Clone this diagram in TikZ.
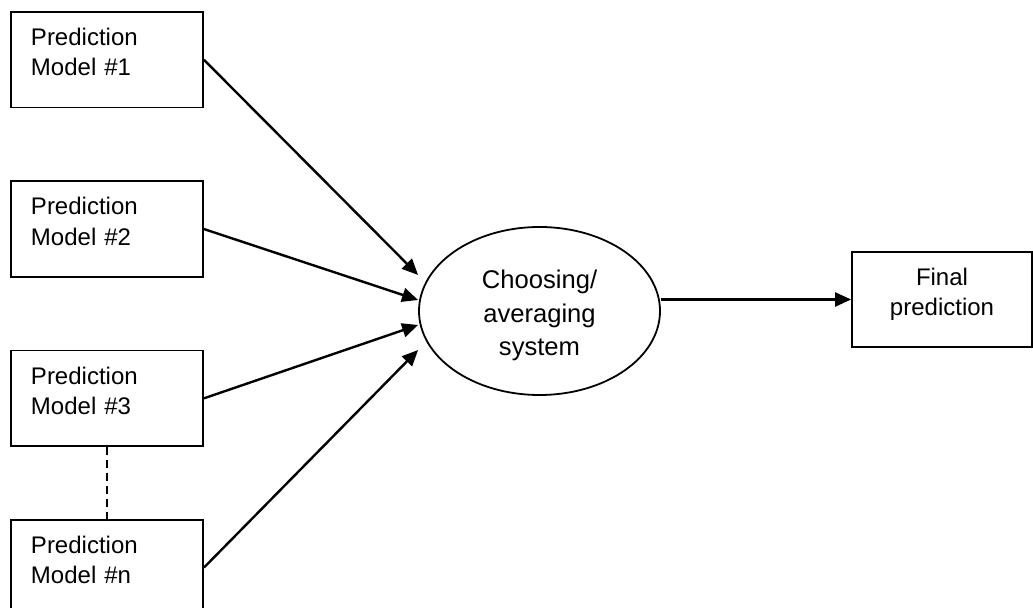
\documentclass[tikz,border=0pt]{standalone}
\usepackage{fontspec}
\setmainfont{Liberation Sans}
\usetikzlibrary{positioning,shapes.geometric,arrows.meta}

\begin{document}
\begin{tikzpicture}[x=0.5pt,y=-0.5pt,
  box/.style={rectangle, draw, line width=0.9pt, inner ysep=0pt, text height=16.75pt, text depth=31pt, font=\fontsize{12}{15.2}\selectfont},
  model/.style={box, minimum width=96pt, inner xsep=10pt, text width=76pt, align=left},
  feed/.style={line width=1.2pt, -{Triangle[length=8pt,width=7pt]}}]
\useasboundingbox (0,0) rectangle (1033,608);
%the models down the left side
\node[model] (m1) at (107,59.75) {Prediction\\Model \#1};
\node[model, below=36pt of m1] (m2) {Prediction\\Model \#2};
\node[model, below=36pt of m2] (m3) {Prediction\\Model \#3};
\node[model, below=36pt of m3] (mn) {Prediction\\Model \#n};
%the combiner and the output
\node[ellipse, draw, line width=0.9pt, minimum width=120.5pt, minimum height=84pt, inner sep=0pt, text width=70pt, align=center, text height=10pt, text depth=32pt, font=\fontsize{12.8}{16.75}\selectfont] (ell) at (539.5,311) {Choosing/\\averaging\\system};
\node[box, minimum width=90pt, inner xsep=5pt, text width=80pt, align=center] (final) at (942,299.5) {Final\\prediction};
%the connectors
\draw[feed] (m1.east) -- ([yshift=18pt]ell.west);
\draw[feed] (m2.east) -- ([yshift=5.5pt]ell.west);
\draw[feed] (m3.east) -- ([yshift=-7pt]ell.west);
\draw[feed] (mn.east) -- ([yshift=-19.5pt]ell.west);
\draw[feed] (ell.east |- final.west) -- (final.west);
\draw[line width=0.9pt, dash pattern=on 4pt off 2.5pt] (m3) -- (mn);
\end{tikzpicture}
\end{document}
